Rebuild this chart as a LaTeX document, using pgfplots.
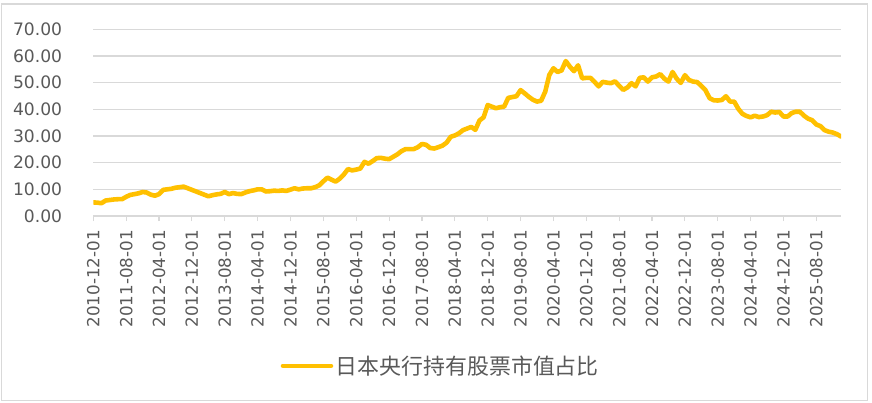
\documentclass[border=0pt]{standalone}
\usepackage{fontspec}
\setmainfont{DejaVu Sans}
\newfontfamily\cjk{Noto Sans CJK SC}
\usepackage{pgfplots}
\pgfplotsset{compat=1.18}
\definecolor{gold}{HTML}{FFC000}
\definecolor{gridgray}{HTML}{D9D9D9}
\definecolor{labgray}{HTML}{595959}
\begin{document}
\begin{tikzpicture}
\useasboundingbox (-93.3bp,-187bp) rectangle (778.7bp,216bp);
\draw[gridgray, line width=1.2bp] (-91.6bp,-184.7bp) rectangle (774.2bp,212bp);
\begin{axis}[
  at={(0,0)}, anchor=south west,
  scale only axis, width=747.7bp, height=186.7bp,
  xmin=0, xmax=182, ymin=0, ymax=70,
  axis x line*=bottom, axis y line*=left,
  x axis line style={gridgray, line width=1.2bp},
  y axis line style={draw=none},
  ymajorgrids, grid style={gridgray, line width=1.1bp},
  xtick={0,8,...,176},
  xticklabels={2010-12-01,2011-08-01,2012-04-01,2012-12-01,2013-08-01,2014-04-01,2014-12-01,2015-08-01,2016-04-01,2016-12-01,2017-08-01,2018-04-01,2018-12-01,2019-08-01,2020-04-01,2020-12-01,2021-08-01,2022-04-01,2022-12-01,2023-08-01,2024-04-01,2024-12-01,2025-08-01},
  ytick={0,10,...,70},
  tick align=outside, major tick length=5bp,
  x tick style={gridgray, line width=1.1bp},
  y tick style={draw=none},
  xticklabel style={rotate=90, anchor=east, inner sep=0pt, font=\fontsize{16.8}{16.8}\selectfont, text=labgray},
  yticklabel style={anchor=east, inner sep=0pt, font=\fontsize{17.2}{17.2}\selectfont, text=labgray,
    /pgf/number format/.cd, fixed, fixed zerofill, precision=2, assume math mode=true},
  xticklabel shift=9bp,
  yticklabel shift=26bp,
  legend style={at={(axis description cs:0.465,-0.803)}, anchor=center, draw=none, fill=none, inner sep=0pt,
    font=\cjk\fontsize{22}{22}\selectfont, text=labgray, nodes={inner sep=2.5bp}},
  legend image code/.code={\draw[#1, line cap=round] (0bp,0bp) -- (48bp,0bp);},
]
\addplot[gold, line width=4.6bp, line join=round, line cap=round] coordinates {
(0,5.1)(1,5.0)(2,4.8)(3,5.8)(4,6.0)(5,6.2)(6,6.3)(7,6.3)(8,7.2)(9,7.9)(10,8.2)(11,8.5)(12,9.0)(13,8.8)(14,8.0)(15,7.6)(16,8.2)(17,9.8)(18,10.0)(19,10.2)
(20,10.6)(21,10.8)(22,11.0)(23,10.4)(24,9.8)(25,9.2)(26,8.6)(27,8.0)(28,7.4)(29,7.8)(30,8.1)(31,8.3)(32,9.0)(33,8.2)(34,8.6)(35,8.3)(36,8.2)(37,8.8)(38,9.3)(39,9.6)
(40,10.0)(41,10.0)(42,9.2)(43,9.3)(44,9.5)(45,9.4)(46,9.6)(47,9.4)(48,9.9)(49,10.4)(50,10.0)(51,10.3)(52,10.4)(53,10.4)(54,10.8)(55,11.5)(56,13.0)(57,14.4)(58,13.6)(59,12.9)
(60,14.0)(61,15.6)(62,17.6)(63,17.1)(64,17.4)(65,17.8)(66,20.3)(67,19.6)(68,20.6)(69,21.7)(70,21.8)(71,21.5)(72,21.3)(73,22.2)(74,23.1)(75,24.3)(76,25.1)(77,25.1)(78,25.1)(79,25.8)
(80,27.0)(81,26.7)(82,25.5)(83,25.3)(84,25.8)(85,26.4)(86,27.5)(87,29.7)(88,30.2)(89,31.0)(90,32.2)(91,32.8)(92,33.4)(93,32.3)(94,35.8)(95,37.0)(96,41.6)(97,41.0)(98,40.4)(99,40.8)
(100,41.0)(101,44.3)(102,44.6)(103,44.9)(104,47.2)(105,46.0)(106,44.7)(107,43.6)(108,42.9)(109,43.2)(110,46.6)(111,52.9)(112,55.4)(113,54.0)(114,54.6)(115,58.1)(116,56.0)(117,54.3)(118,56.5)(119,51.6)
(120,51.8)(121,51.8)(122,50.3)(123,48.6)(124,50.3)(125,50.0)(126,49.8)(127,50.5)(128,48.8)(129,47.3)(130,48.2)(131,49.8)(132,48.6)(133,51.8)(134,52.0)(135,50.4)(136,52.0)(137,52.3)(138,53.2)(139,51.5)
(140,50.4)(141,54.0)(142,51.5)(143,49.9)(144,52.8)(145,51.0)(146,50.4)(147,50.2)(148,48.8)(149,47.2)(150,44.2)(151,43.4)(152,43.3)(153,43.5)(154,44.9)(155,42.9)(156,42.9)(157,40.2)(158,38.3)(159,37.5)
(160,37.0)(161,37.6)(162,37.1)(163,37.3)(164,37.8)(165,39.1)(166,38.8)(167,39.0)(168,37.3)(169,37.3)(170,38.6)(171,39.1)(172,39.1)(173,37.6)(174,36.5)(175,35.9)(176,34.3)(177,33.7)(178,32.2)(179,31.6)
(180,31.3)(181,30.7)(182,29.8)
};
\addlegendentry{日本央行持有股票市值占比}
\end{axis}
\end{tikzpicture}
\end{document}
